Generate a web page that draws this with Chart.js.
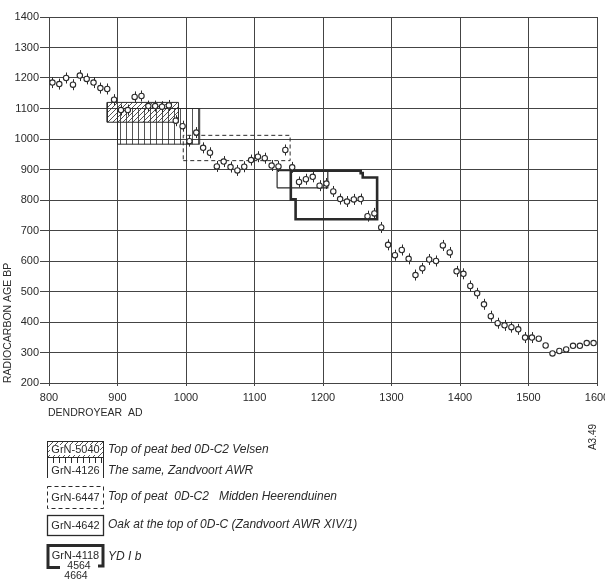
<!DOCTYPE html>
<html>
<head>
<meta charset="utf-8">
<script src="https://cdn.jsdelivr.net/npm/chart.js@4.4.0/dist/chart.umd.min.js"></script>
<style>
  html, body { margin: 0; padding: 0; background: #fff; }
  #wrap { width: 605px; height: 582px; position: relative; }
</style>
</head>
<body>
<div id="wrap"><canvas id="c14Chart"></canvas></div>
<script>
// decadal radiocarbon ages (dendroyear AD -> age BP)
const years = [805, 815, 825, 835, 845, 855, 865, 875, 885, 895,
    905, 915, 925, 935, 945, 955, 965, 975, 985, 995,
    1005, 1015, 1025, 1035, 1045, 1055, 1065, 1075, 1085, 1095,
    1105, 1115, 1125, 1135, 1145, 1155, 1165, 1175, 1185, 1195,
    1205, 1215, 1225, 1235, 1245, 1255, 1265, 1275, 1285, 1295,
    1305, 1315, 1325, 1335, 1345, 1355, 1365, 1375, 1385, 1395,
    1405, 1415, 1425, 1435, 1445, 1455, 1465, 1475, 1485, 1495,
    1505, 1515, 1525, 1535, 1545, 1555, 1565, 1575, 1585, 1595];
const ages = [1185, 1180, 1200, 1178, 1208, 1197, 1185, 1167, 1164, 1129,
    1095, 1095, 1138, 1141, 1108, 1108, 1106, 1110, 1060, 1042,
    993, 1021, 971, 955, 910, 926, 908, 897, 909, 931,
    942, 937, 913, 910, 964, 907, 859, 868, 876, 847,
    854, 828, 803, 795, 802, 803, 747, 756, 710, 653,
    619, 636, 607, 554, 576, 605, 600, 651, 628, 566,
    558, 518, 494, 458, 419, 396, 389, 383, 376, 349,
    349, 345, 323, 297, 305, 310, 322, 322, 331, 331];
const ageErrors = [18, 18, 18, 18, 18, 18, 18, 18, 18, 18,
    18, 18, 18, 18, 18, 18, 18, 18, 18, 18,
    18, 18, 18, 18, 18, 18, 18, 18, 18, 18,
    18, 18, 18, 18, 18, 18, 18, 18, 18, 18,
    18, 18, 18, 18, 18, 18, 18, 18, 18, 18,
    18, 18, 18, 18, 18, 18, 18, 18, 18, 18,
    18, 18, 18, 18, 18, 18, 18, 18, 18, 18,
    18, 0, 0, 0, 0, 0, 0, 0, 0, 0];

// sample ranges: [fromYear, toYear, lowBP, highBP]
const velsenBox = [885, 989, 1055, 1120];   // GrN-5040
const awrBox = [900, 1020, 983, 1100];      // GrN-4126
const heerBox = [996, 1152, 929, 1012];     // GrN-6447
const oakBox = [1133, 1207, 840, 896];      // GrN-4642
// YD I b outline (GrN-4118 / 4564 / 4664)
const ydYears = [1153, 1255, 1255, 1258, 1258, 1279, 1279, 1160, 1160, 1153, 1153];
const ydAges = [896, 896, 888, 888, 874, 874, 737, 737, 802, 802, 896];

const xTicks = [800, 900, 1000, 1100, 1200, 1300, 1400, 1500, 1600];
const yTicks = [200, 300, 400, 500, 600, 700, 800, 900, 1000, 1100, 1200, 1300, 1400];

const INK = '#2a2a2a';
const GRID = '#444';
const FONT = "'Liberation Sans', Arial, sans-serif";

const canvas = document.getElementById('c14Chart');
const mainCtx = canvas.getContext('2d');

function makePattern(kind) {
    const p = document.createElement('canvas');
    const size = kind === 'hatch' ? 5 : 6;
    p.width = size; p.height = size;
    const g = p.getContext('2d');
    g.strokeStyle = INK;
    g.lineWidth = 0.8;
    g.beginPath();
    if (kind === 'hatch') {
        g.moveTo(0, size); g.lineTo(size, 0);
        g.moveTo(-1, 1); g.lineTo(1, -1);
        g.moveTo(size - 1, size + 1); g.lineTo(size + 1, size - 1);
    } else {
        g.moveTo(0.5, 0); g.lineTo(0.5, size);
    }
    g.stroke();
    return mainCtx.createPattern(p, 'repeat');
}
const hatchPattern = makePattern('hatch');
const vlinePattern = makePattern('vline');

function rectPoints(b) {
    return [
        { x: b[0], y: b[2] }, { x: b[1], y: b[2] }, { x: b[1], y: b[3] },
        { x: b[0], y: b[3] }, { x: b[0], y: b[2] }
    ];
}

const points = years.map((yr, i) => ({ x: yr, y: ages[i] }));
const ydPoints = ydYears.map((yr, i) => ({ x: yr, y: ydAges[i] }));

const boxBase = {
    type: 'line', showLine: true, pointRadius: 0, tension: 0,
    borderColor: INK, borderJoinStyle: 'miter'
};

// error bars, drawn just before the points
const errorBars = {
    id: 'errorBars',
    beforeDatasetDraw(chart, args) {
        if (args.index !== 0) return;
        const { ctx, scales: { x, y } } = chart;
        ctx.save();
        ctx.strokeStyle = INK;
        ctx.lineWidth = 1;
        ctx.beginPath();
        years.forEach((yr, i) => {
            if (!ageErrors[i]) return;
            const px = Math.round(x.getPixelForValue(yr)) + 0.5;
            ctx.moveTo(px, y.getPixelForValue(ages[i] + ageErrors[i]));
            ctx.lineTo(px, y.getPixelForValue(ages[i] - ageErrors[i]));
        });
        ctx.stroke();
        ctx.restore();
    }
};

// axis title, sample key and figure code
const sampleKey = {
    id: 'sampleKey',
    afterDraw(chart) {
        const ctx = chart.ctx;
        ctx.save();
        ctx.fillStyle = INK;
        ctx.strokeStyle = INK;
        ctx.textBaseline = 'middle';

        ctx.font = `10.5px ${FONT}`;
        ctx.textAlign = 'left';
        ctx.fillText('DENDROYEAR  AD', 48, 413);

        // key boxes
        const bx = 47, bw = 56;
        ctx.fillStyle = hatchPattern;
        ctx.fillRect(bx, 441, bw, 16);
        ctx.lineWidth = 1;
        ctx.strokeRect(bx + 0.5, 441.5, bw, 16);

        ctx.beginPath();
        for (let vx = bx; vx <= bx + bw; vx += 6) {
            ctx.moveTo(vx + 0.5, 458);
            ctx.lineTo(vx + 0.5, 463);
        }
        ctx.moveTo(bx + 0.5, 458); ctx.lineTo(bx + 0.5, 478);
        ctx.moveTo(bx + bw + 0.5, 458); ctx.lineTo(bx + bw + 0.5, 478);
        ctx.stroke();

        ctx.setLineDash([4, 3]);
        ctx.strokeRect(bx + 0.5, 486.5, bw, 22);
        ctx.setLineDash([]);

        ctx.lineWidth = 1.3;
        ctx.strokeRect(bx + 0.5, 515.5, bw, 20);

        ctx.lineWidth = 3;
        ctx.lineJoin = 'miter';
        ctx.beginPath();
        ctx.moveTo(60, 567.5); ctx.lineTo(bx + 1, 567.5); ctx.lineTo(bx + 1, 545.5);
        ctx.lineTo(bx + bw, 545.5); ctx.lineTo(bx + bw, 566); ctx.lineTo(98, 566);
        ctx.stroke();

        ctx.fillStyle = '#fff';
        ctx.fillRect(bx + 3, 445, bw - 6, 10);
        ctx.fillRect(bx + 3, 465, bw - 6, 12);

        ctx.fillStyle = INK;
        ctx.font = `11px ${FONT}`;
        ctx.textAlign = 'center';
        ctx.fillText('GrN-5040', 75.5, 450);
        ctx.fillText('GrN-4126', 75.5, 471);
        ctx.fillText('GrN-6447', 75.5, 497.5);
        ctx.fillText('GrN-4642', 75.5, 525.5);
        ctx.fillText('GrN-4118', 75.5, 556);
        ctx.font = `10.5px ${FONT}`;
        ctx.fillText('4564', 79, 566);
        ctx.fillText('4664', 76, 576.5);

        ctx.font = `italic 12px ${FONT}`;
        ctx.textAlign = 'left';
        ctx.fillText('Top of peat bed 0D-C2 Velsen', 108, 450);
        ctx.fillText('The same, Zandvoort AWR', 108, 470.5);
        ctx.fillText('Top of peat  0D-C2   Midden Heerenduinen', 108, 497);
        ctx.fillText('Oak at the top of 0D-C (Zandvoort AWR XIV/1)', 108, 525);
        ctx.fillText('YD I b', 108, 556.5);

        ctx.translate(593, 437);
        ctx.rotate(-Math.PI / 2);
        ctx.font = `10px ${FONT}`;
        ctx.textAlign = 'center';
        ctx.fillText('A3.49', 0, 0);
        ctx.restore();
    }
};

const plainTick = (v) => String(v);

new Chart(canvas, {
    type: 'scatter',
    data: {
        datasets: [
            {
                label: 'Radiocarbon age',
                data: points,
                pointRadius: 2.7,
                pointBorderWidth: 1.1,
                pointBorderColor: INK,
                pointBackgroundColor: '#fff'
            },
            { ...boxBase, label: 'GrN-4118', data: ydPoints, borderWidth: 2.6, fill: false },
            { ...boxBase, label: 'GrN-4642', data: rectPoints(oakBox), borderWidth: 1.2, fill: false },
            { ...boxBase, label: 'GrN-6447', data: rectPoints(heerBox), borderWidth: 1, borderDash: [4, 3], fill: false },
            { ...boxBase, label: 'GrN-5040', data: rectPoints(velsenBox), borderWidth: 1, fill: 'shape', backgroundColor: hatchPattern },
            { ...boxBase, label: 'GrN-4126', data: rectPoints(awrBox), borderWidth: 1, fill: 'shape', backgroundColor: vlinePattern }
        ]
    },
    options: {
        responsive: true,
        maintainAspectRatio: false,
        animation: false,
        layout: { padding: { top: 17, right: 8, left: 0, bottom: 0 } },
        plugins: { legend: { display: false }, tooltip: { enabled: false } },
        scales: {
            x: {
                type: 'linear',
                min: 800, max: 1600,
                afterBuildTicks: (scale) => { scale.ticks = xTicks.map(v => ({ value: v })); },
                afterFit: (scale) => { scale.height = 199; scale.paddingLeft = 0; scale.paddingRight = 0; },
                grid: { color: GRID, lineWidth: 1, tickLength: 3 },
                border: { color: GRID, width: 1 },
                ticks: { color: INK, font: { family: FONT, size: 11 }, padding: 5, maxRotation: 0, callback: plainTick }
            },
            y: {
                type: 'linear',
                min: 200, max: 1400,
                afterBuildTicks: (scale) => { scale.ticks = yTicks.map(v => ({ value: v })); },
                afterFit: (scale) => { scale.width = 49; },
                grid: { color: GRID, lineWidth: 1, tickLength: 9 },
                border: { color: GRID, width: 1 },
                ticks: { color: INK, font: { family: FONT, size: 11 }, padding: 1, callback: plainTick },
                title: {
                    display: true, text: 'RADIOCARBON AGE BP', align: 'start',
                    color: INK, font: { family: FONT, size: 10.5 }, padding: 2
                }
            }
        }
    },
    plugins: [errorBars, sampleKey]
});
</script>
</body>
</html>
